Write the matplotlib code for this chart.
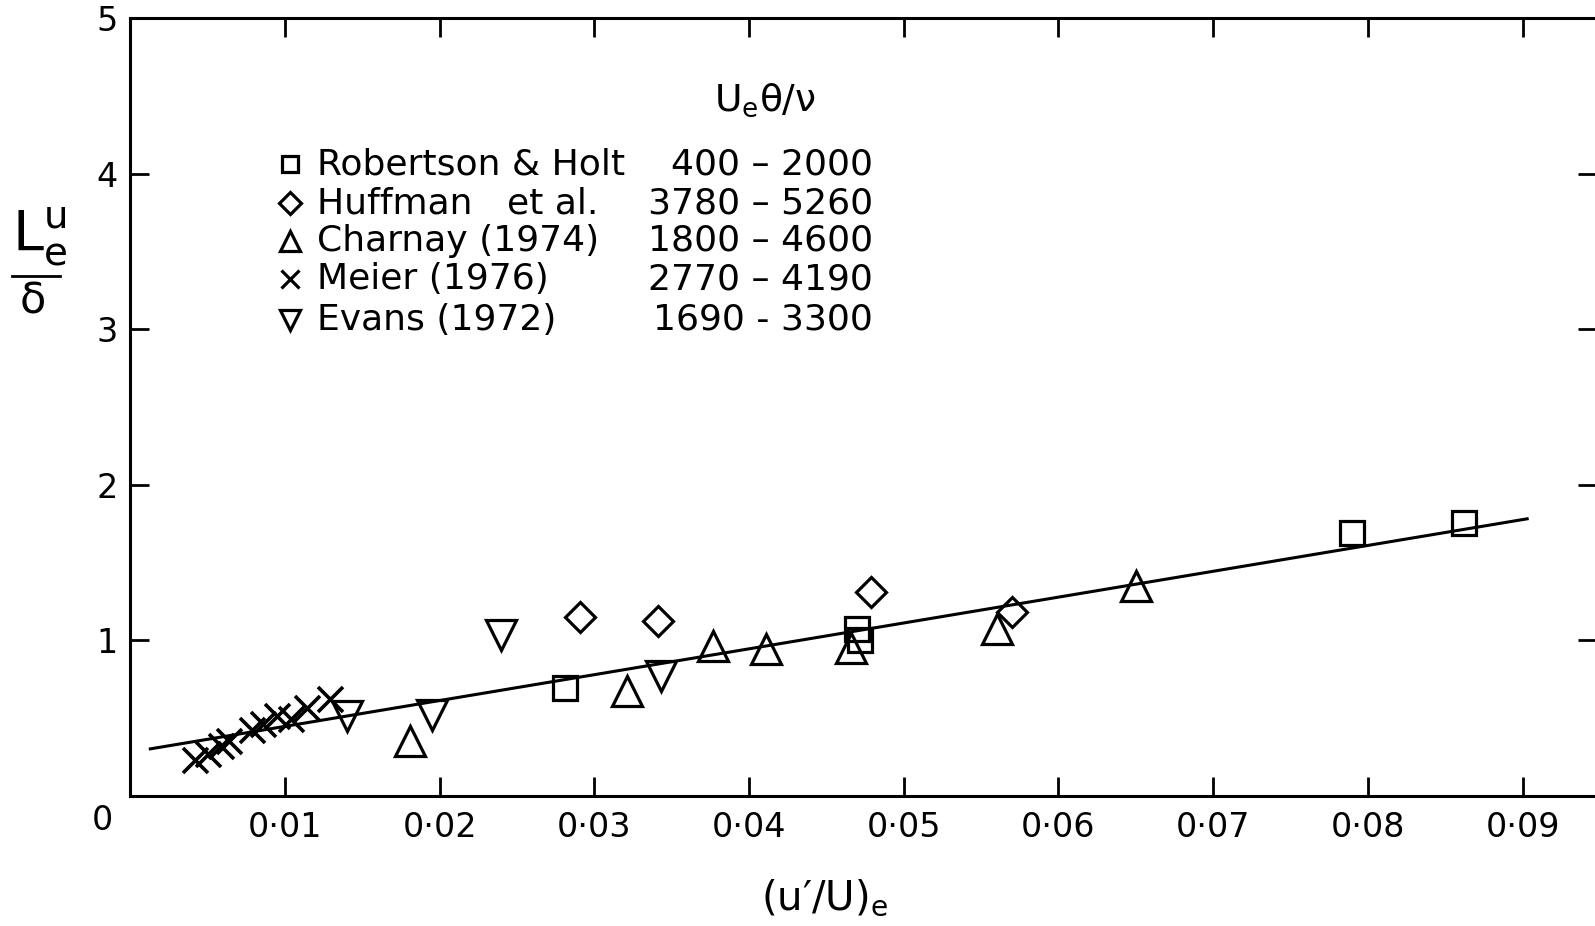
"""Integral length scale L_e^u / delta against free-stream turbulence (u'/U)_e."""

import matplotlib
matplotlib.use("Agg")
import matplotlib.pyplot as plt
from matplotlib.lines import Line2D

plt.rcParams["font.family"] = ["DejaVu Sans"]
plt.rcParams["mathtext.default"] = "regular"

# --- data ---
robertson_x = [0.0281, 0.0470, 0.0472, 0.0790, 0.0862]
robertson_y = [0.69, 1.07, 1.00, 1.69, 1.75]

huffman_x = [0.0291, 0.0341, 0.0479, 0.0570]
huffman_y = [1.15, 1.12, 1.31, 1.18]

charnay_x = [0.0181, 0.0321, 0.0377, 0.0411, 0.0466, 0.0560, 0.0650]
charnay_y = [0.35, 0.67, 0.96, 0.94, 0.95, 1.07, 1.35]

meier_x = [0.0042, 0.0050, 0.0059, 0.0064, 0.0079, 0.0086, 0.0095, 0.0104, 0.0114, 0.0129]
meier_y = [0.23, 0.27, 0.32, 0.35, 0.42, 0.46, 0.51, 0.49, 0.56, 0.62]

evans_x = [0.0140, 0.0195, 0.0240, 0.0343]
evans_y = [0.51, 0.52, 1.03, 0.77]

fit_x = [0.0013, 0.0903]
fit_y = [0.30, 1.78]

legend_names = ["Robertson & Holt", "Huffman   et al.", "Charnay (1974)",
                "Meier (1976)", "Evans (1972)"]
legend_ranges = ["400 – 2000", "3780 – 5260", "1800 – 4600",
                 "2770 – 4190", "1690 - 3300"]
legend_markers = ["s", "D", "^", "x", "v"]

x_ticks = [0.01, 0.02, 0.03, 0.04, 0.05, 0.06, 0.07, 0.08, 0.09]
x_ticklabels = ["0·01", "0·02", "0·03", "0·04", "0·05", "0·06", "0·07", "0·08", "0·09"]
y_ticks = [1, 2, 3, 4, 5]

W, H = 1595, 926
fig = plt.figure(figsize=(W / 100, H / 100), dpi=100)
# axes runs slightly past the right edge of the page, as in the scan
ax = fig.add_axes([130.2 / W, 130.5 / H, 1466.6 / W, 777.2 / H])
ax.set_xlim(0, 0.0948)
ax.set_ylim(0, 5)

mk = dict(linestyle="none", mfc="none", mec="black", color="black", mew=2.3)
ax.plot(robertson_x, robertson_y, marker="s", ms=17, **mk)
ax.plot(huffman_x, huffman_y, marker="D", ms=15, **mk)
ax.plot(charnay_x, charnay_y, marker="^", ms=21, **mk)
ax.plot(meier_x, meier_y, marker="x", ms=18, mew=2.6, **{k: v for k, v in mk.items() if k != "mew"})
ax.plot(evans_x, evans_y, marker="v", ms=21, **mk)
ax.plot(fit_x, fit_y, color="black", lw=2.2)

# --- axes styling ---
for side in ["left", "bottom", "top", "right"]:
    ax.spines[side].set_linewidth(2.2)
ax.set_xticks(x_ticks)
ax.set_xticklabels(x_ticklabels)
ax.set_yticks(y_ticks)
ax.tick_params(axis="both", direction="in", length=14, width=2, labelsize=24,
               top=True, right=True)
ax.tick_params(axis="x", pad=11)
ax.tick_params(axis="y", pad=9)
ax.text(-0.0018, -0.16, "0", fontsize=24, ha="center", va="center")

ax.text(0.0449, -0.66, "$(u′/U)_e$", fontsize=29, ha="center", va="center")

# y label: L_e^u over delta, drawn upright as in the original
fig.text(12 / W, 1 - 249 / H, "$L_e^u$", fontsize=40, ha="left", va="baseline")
fig.text(33 / W, 1 - 313 / H, "δ", fontsize=31, ha="center", va="baseline")
fig.add_artist(Line2D([12 / W, 60 / W], [1 - 276 / H, 1 - 276 / H],
                      color="black", lw=2, transform=fig.transFigure))

# --- legend block ---
ax.text(0.0410, 4.47, r"$U_e\theta/\nu$", fontsize=27, ha="center", va="center")
row_y = [4.06, 3.81, 3.57, 3.32, 3.06]
key_size = {"s": 12, "D": 11, "^": 15, "x": 13, "v": 15}
for name, rng, m, yy in zip(legend_names, legend_ranges, legend_markers, row_y):
    ax.plot([0.0103], [yy], marker=m, ms=key_size[m], **mk)
    ax.text(0.0121, yy, name, fontsize=26, ha="left", va="center")
    ax.text(0.0480, yy, rng, fontsize=26, ha="right", va="center")

fig.savefig("out.png", dpi=100)
